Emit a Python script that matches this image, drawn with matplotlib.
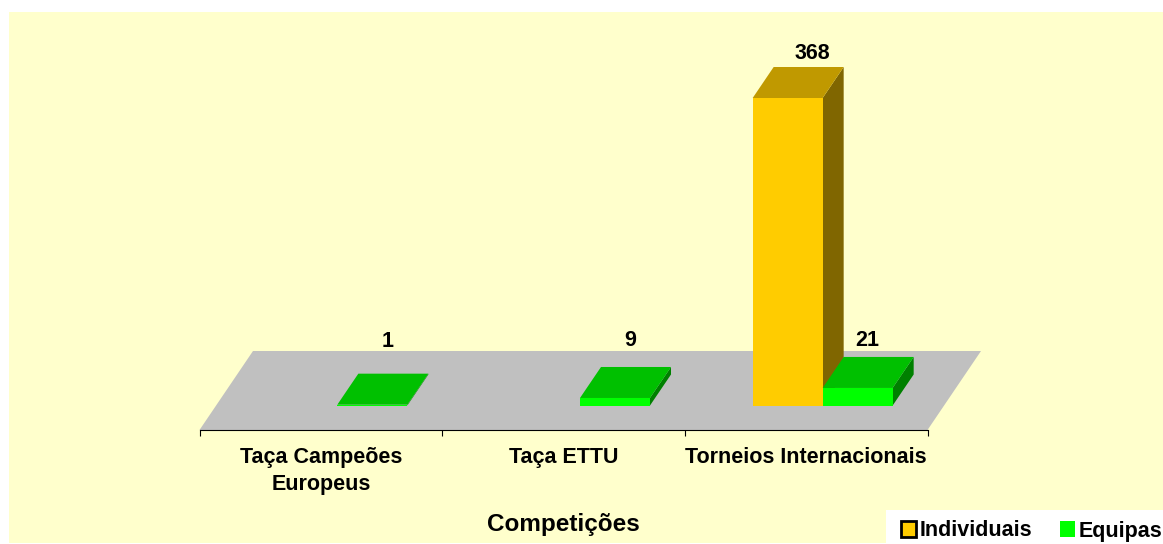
import matplotlib
matplotlib.use("Agg")
import matplotlib.pyplot as plt
from matplotlib.patches import Polygon, Rectangle, Patch

categories = ["Taça Campeões\nEuropeus", "Taça ETTU", "Torneios Internacionais"]
individuais = [0, 0, 368]
equipas = [1, 9, 21]
axis_title = "Competições"
series_names = ["Individuais", "Equipas"]

plt.rcParams['font.family'] = ['Liberation Sans', 'DejaVu Sans']
plt.rcParams['font.weight'] = 'bold'

W, H = 1163, 544
fig = plt.figure(figsize=(W / 100, H / 100), dpi=100, facecolor="white")

def fx(px):
    return px / W
def fy(py):
    return 1 - py / H

# chart background and legend panel
fig.add_artist(Rectangle((fx(9), fy(543)), (W - 9) / W, (543 - 12) / H,
                         transform=fig.transFigure, fc="#FFFFCC", ec="none", zorder=-5))
fig.add_artist(Rectangle((fx(886), 0), (W - 886) / W, (544 - 510) / H,
                         transform=fig.transFigure, fc="white", ec="none", zorder=-4))

# plot frame in pixels
L, R = 199.5, 927.5
AX_BOTTOM, AX_TOP, ZERO = 430, 12, 405.5
PX_PER_VAL = (405.5 - 98) / 368
ax = fig.add_axes([fx(L), fy(AX_BOTTOM), (R - L) / W, (AX_BOTTOM - AX_TOP) / H])
ax.patch.set_alpha(0)
ax.set_xlim(0, 3)
ax.set_ylim(-(AX_BOTTOM - ZERO) / PX_PER_VAL, (ZERO - AX_TOP) / PX_PER_VAL)
PX_PER_CAT = (R - L) / 3

def dx(px):
    return px / PX_PER_CAT
def dy(px):
    return px / PX_PER_VAL

# floor
y0 = ax.get_ylim()[0]
ax.add_patch(Polygon([(0, y0), (3, y0), (3 + dx(53.5), y0 + dy(79)), (dx(53.5), y0 + dy(79))],
                     closed=True, fc="#C0C0C0", ec="none", clip_on=False, zorder=1))

BAR_W = dx(70)
SHIFT = dx(16.5)
DEPTH_X, DEPTH_Y = dx(21), dy(31)

def bar3d(x_left, value, front, top, side, z):
    if value <= 0:
        return
    x_right = x_left + BAR_W
    kw = dict(closed=True, ec="none", clip_on=False, zorder=z)
    ax.add_patch(Polygon([(x_right, 0), (x_right + DEPTH_X, DEPTH_Y),
                          (x_right + DEPTH_X, value + DEPTH_Y), (x_right, value)], fc=side, **kw))
    ax.add_patch(Polygon([(x_left, value), (x_right, value),
                          (x_right + DEPTH_X, value + DEPTH_Y), (x_left + DEPTH_X, value + DEPTH_Y)],
                         fc=top, **kw))
    ax.add_patch(Rectangle((x_left, 0), BAR_W, value, fc=front, ec="none", clip_on=False, zorder=z))

for i in range(len(categories)):
    centre = i + 0.5 + SHIFT
    bar3d(centre - BAR_W, individuais[i], "#FFCC00", "#C09900", "#806600", 3)
    bar3d(centre, equipas[i], "#00FF00", "#00C000", "#008000", 4)

# value labels (pixel offsets relative to each bar's front-top centre)
labels = [(0.5 + SHIFT + BAR_W / 2, equipas[0], (15.5, 63)),
          (1.5 + SHIFT + BAR_W / 2, equipas[1], (15.5, 57)),
          (2.5 + SHIFT + BAR_W / 2, equipas[2], (10, 47)),
          (2.5 + SHIFT - BAR_W / 2, individuais[2], (25, 45))]
for x, v, off in labels:
    ax.annotate(str(v), (x, v), xytext=(off[0] * 0.72, off[1] * 0.72), textcoords="offset points",
                ha="center", va="center", fontsize=15.5, fontweight="bold", color="black",
                zorder=6, annotation_clip=False)

# axis
for s in ("top", "left", "right"):
    ax.spines[s].set_visible(False)
ax.spines["bottom"].set_linewidth(0.8)
ax.spines["bottom"].set_zorder(5)
ax.yaxis.set_visible(False)
ax.set_xticks(range(len(categories) + 1))
ax.set_xticklabels([])
ax.set_xticks([i + 0.5 for i in range(len(categories))], minor=True)
ax.set_xticklabels(categories, minor=True, fontsize=15.5, fontweight="bold", linespacing=1.38, va="top")
ax.tick_params(axis="x", which="major", length=4.3, width=0.8, color="black")
ax.tick_params(axis="x", which="minor", length=0, pad=12)

fig.text(fx(563.5), fy(524.5), axis_title, ha="center", va="center", fontsize=17.5, fontweight="bold")

# legend
handles = [Patch(fc="#FFCC00", ec="black", lw=2, label=series_names[0]),
           Patch(fc="#00FF00", ec="none", label=series_names[1])]
fig.legend(handles=handles, ncol=2, frameon=False, loc="center left",
           bbox_to_anchor=(fx(897), fy(531)), fontsize=15.5, handlelength=0.7, handleheight=0.7,
           handletextpad=0.15, columnspacing=1.3, borderpad=0.2, borderaxespad=0)

fig.savefig("out.png", dpi=100, facecolor="white")
